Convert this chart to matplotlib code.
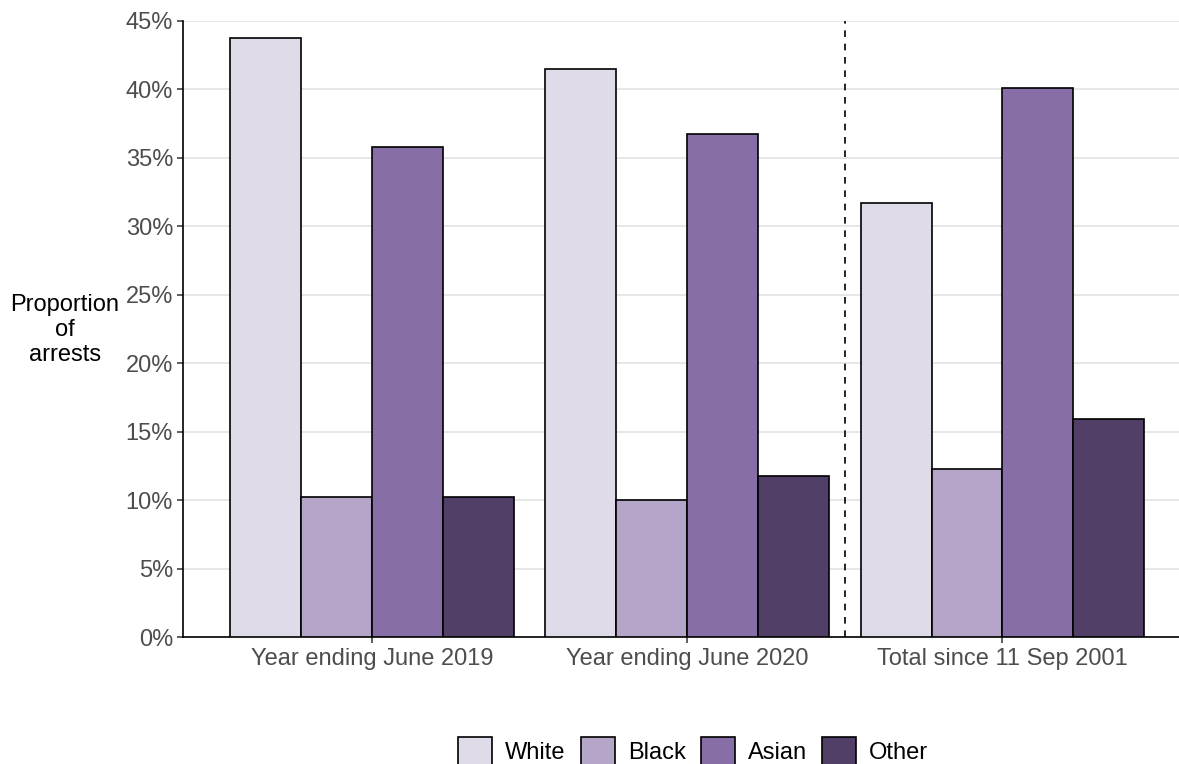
import numpy as np
import matplotlib.pyplot as plt
from matplotlib.patches import Patch
from matplotlib.ticker import PercentFormatter

plt.rcParams['font.family'] = ['Liberation Sans', 'DejaVu Sans']

groups = ['Year ending June 2019', 'Year ending June 2020', 'Total since 11 Sep 2001']
ethnicity = ['White', 'Black', 'Asian', 'Other']
white = [43.7, 41.5, 31.7]
black = [10.2, 10.0, 12.3]
asian = [35.8, 36.7, 40.1]
other = [10.2, 11.8, 15.9]
farger = ['#e0dbe9', '#b5a5c9', '#886ea6', '#513f67']

serier = [white, black, asian, other]
x = np.arange(1, len(groups) + 1)
b = 0.225	# bredde pr. søjle
fs = 17		# skriftstørrelse

fig = plt.figure(figsize=(11.79, 7.64), dpi=100)
ax = fig.add_axes([0.155, 0.166, 0.845, 0.807])

for i in range(len(serier)):
	ax.bar(x + (i - 1.5) * b, serier[i], width=b, color=farger[i],
		edgecolor='black', linewidth=1.2, zorder=3)

ax.axvline(2.5, color='black', linestyle=(0, (4, 4)), linewidth=1.2, zorder=4)

ax.set_ylim(0, 45)
ax.set_xlim(0.4, 3.56)
ax.set_yticks(np.arange(0, 46, 5))
ax.yaxis.set_major_formatter(PercentFormatter(decimals=0))
ax.set_xticks(x)
ax.set_xticklabels(groups)
ax.grid(axis='y', color='#e5e5e5', linewidth=1.3, zorder=0)
ax.tick_params(axis='both', labelsize=fs, labelcolor='#4d4d4d', length=4, width=1.1, color='#333333')
ax.tick_params(axis='x', pad=4)
ax.tick_params(axis='y', pad=3)
for s in ['top', 'right']:
	ax.spines[s].set_visible(False)
for s in ['left', 'bottom']:
	ax.spines[s].set_linewidth(1.2)

fig.text(65 / 1179, 1 - 330 / 764, 'Proportion\nof\narrests', ha='center', va='center',
	fontsize=fs, color='black', linespacing=1.2)

handles = [Patch(facecolor=farger[i], edgecolor='black', linewidth=1.2, label=ethnicity[i]) for i in range(4)]
fig.legend(handles=handles, loc='center', bbox_to_anchor=(693 / 1179, 1 - 751 / 764), ncol=4,
	frameon=False, fontsize=fs, handlelength=1.45, handleheight=1.45,
	handletextpad=0.55, columnspacing=0.63, borderpad=0)

fig.savefig('out.png', dpi=100)
